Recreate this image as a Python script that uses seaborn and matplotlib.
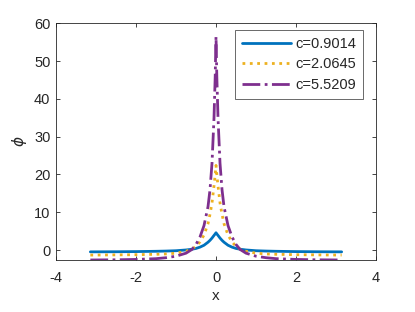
import numpy as np
import pandas as pd
import matplotlib
matplotlib.use('Agg')
import matplotlib.pyplot as plt
import seaborn as sns

# half-profiles (symmetric about x=0)
x_half = [0, 0.02, 0.05, 0.1, 0.15, 0.2, 0.3, 0.4, 0.5, 0.6, 0.75, 1.0, 1.25, 1.5, 2.0, 2.5, 3.1416]
phi_c1 = [4.6, 4.3, 3.9, 3.2, 2.6, 2.1, 1.3, 0.8, 0.45, 0.25, 0.05, -0.15, -0.24, -0.3, -0.38, -0.42, -0.45]
phi_c2 = [22.4, 20.0, 17.0, 12.5, 9.5, 7.0, 4.0, 2.2, 1.0, 0.3, -0.3, -0.8, -1.0, -1.1, -1.2, -1.25, -1.3]
phi_c3 = [56.5, 46.0, 35.0, 23.0, 16.0, 11.5, 6.5, 3.5, 1.5, 0.2, -0.8, -1.6, -2.0, -2.25, -2.45, -2.55, -2.6]
labels = ['c=0.9014', 'c=2.0645', 'c=5.5209']


def full(vals):
    return list(vals[:0:-1]) + list(vals)


x_full = [-v for v in x_half[:0:-1]] + x_half

sns.set_style('ticks')
plt.rcParams['font.family'] = ['Liberation Sans', 'DejaVu Sans']
plt.rcParams['axes.unicode_minus'] = False

fig = plt.figure(figsize=(4.15, 3.12), dpi=100)
ax = fig.add_axes([0.135, 0.1667, 0.771, 0.759])

colors = ['#0072BD', '#EDB120', '#7E2F8E']
styles = ['-', ':', '-.']
for vals, lab, col, ls in zip([phi_c1, phi_c2, phi_c3], labels, colors, styles):
    sns.lineplot(x=x_full, y=full(vals), ax=ax, color=col, linestyle=ls,
                 linewidth=2, label=lab, sort=False)

ax.set_xlim(-4, 4)
ax.set_ylim(-2.6, 60)
ax.set_xticks([-4, -2, 0, 2, 4])
ax.set_yticks([0, 10, 20, 30, 40, 50, 60])
ax.set_xlabel('x', fontsize=11, color='#262626', labelpad=3)
ax.set_ylabel(r'$\phi$', fontsize=11, color='#262626', labelpad=4)
for s in ax.spines.values():
    s.set_color('#262626')
    s.set_linewidth(0.6)
ax.tick_params(direction='in', top=True, right=True, length=3, width=0.6,
               labelsize=10.5, colors='#262626', pad=4)
ax.tick_params(axis='x', pad=8)

leg = ax.legend(loc='upper right', fontsize=10.5, handlelength=3.4,
                frameon=True, fancybox=False, borderaxespad=0.0,
                bbox_to_anchor=(0.96, 0.97),
                labelspacing=0.45, handletextpad=0.3, borderpad=0.45)
leg.get_frame().set_edgecolor('#262626')
leg.get_frame().set_linewidth(0.6)

fig.savefig('out.png', dpi=100)
